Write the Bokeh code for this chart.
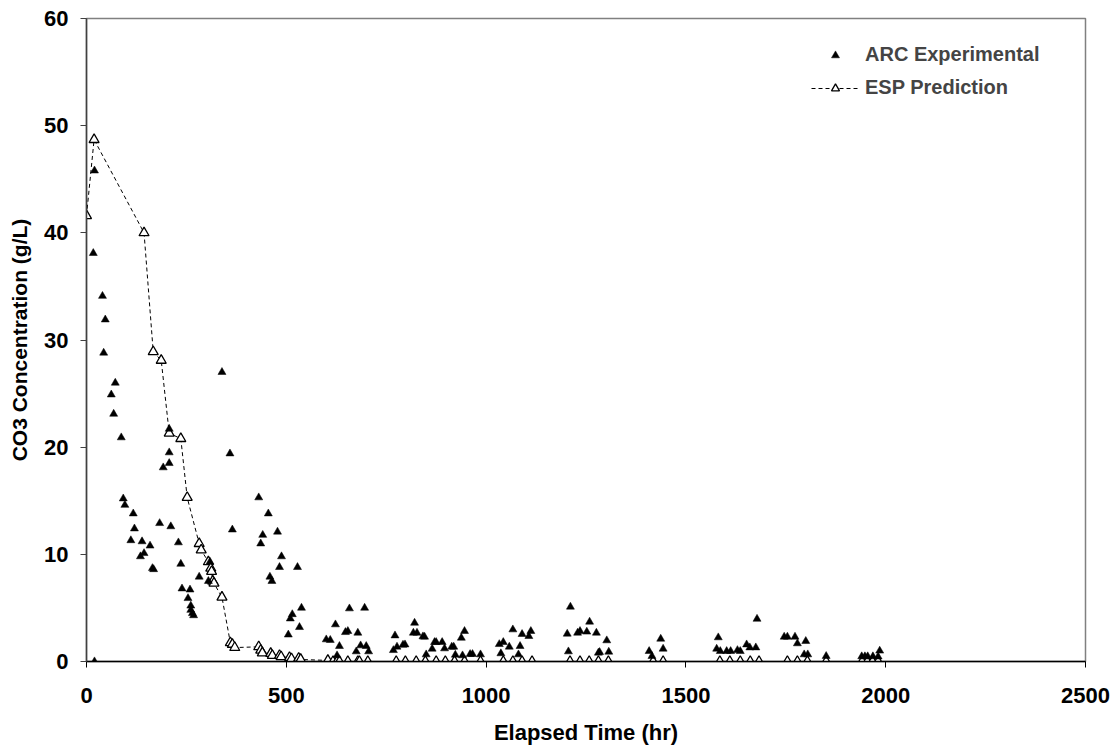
from bokeh.plotting import figure
from bokeh.models import Range1d, FixedTicker, Legend, LegendItem
from bokeh.embed import file_html
from bokeh.resources import INLINE

# ARC Experimental data (hr, g/L)
arc_x = [20, 17, 20, 40, 47, 43, 62, 72, 68, 87, 92, 96, 117, 120, 111, 139, 159, 144, 135, 165,
         168, 183, 192, 207, 207, 207, 211, 230, 236, 239, 259, 254, 261, 261, 265, 268, 282, 305,
         309, 339, 359, 365, 431, 436, 441, 455, 459, 464, 478, 483, 488, 505, 510, 515, 528, 533,
         538, 600, 610, 623, 627, 633, 648, 654, 658, 675, 679, 686, 696, 700, 706, 768, 772, 777,
         792, 797, 818, 821, 827, 842, 846, 850, 865, 871, 875, 890, 896, 914, 919, 923, 938, 941,
         946, 960, 966, 986, 1033, 1037, 1043, 1058, 1067, 1081, 1085, 1090, 1107, 1112, 1203,
         1206, 1211, 1229, 1235, 1252, 1259, 1276, 1281, 1284, 1302, 1307, 1408, 1415, 1437, 1443,
         1577, 1581, 1586, 1602, 1612, 1629, 1636, 1652, 1660, 1675, 1678, 1746, 1754, 1773, 1779,
         1796, 1800, 1805, 1851, 1940, 1948, 1955, 1968, 1981, 1985]
arc_y = [0.0, 38.1, 45.8, 34.1, 31.9, 28.8, 24.9, 26.0, 23.1, 20.9, 15.2, 14.6, 13.8, 12.4, 11.3,
         11.2, 10.8, 10.1, 9.8, 8.7, 8.6, 12.9, 18.1, 21.7, 19.5, 18.5, 12.6, 11.1, 9.1, 6.8, 6.7,
         5.9, 5.2, 4.8, 4.5, 4.3, 7.9, 7.5, 9.3, 27.0, 19.4, 12.3, 15.3, 11.0, 11.8, 13.8, 7.9, 7.5,
         12.1, 8.8, 9.8, 2.5, 4.0, 4.4, 8.8, 3.2, 5.0, 2.05, 2.0, 3.45, 0.56, 1.43, 2.73, 2.83, 4.94,
         0.93, 2.67, 1.49, 5.0, 1.43, 0.93, 1.05, 2.42, 1.37, 1.55, 1.58, 2.67, 3.6, 2.67, 2.33,
         2.3, 0.65, 1.18, 1.8, 1.8, 1.8, 1.21, 1.37, 1.37, 0.62, 2.2, 0.56, 2.83, 0.68, 0.68, 0.65,
         1.61, 0.75, 1.8, 1.37, 2.98, 0.65, 1.43, 2.55, 2.36, 2.83, 2.58, 0.93, 5.1, 2.67, 2.83,
         2.77, 3.7, 2.67, 0.81, 0.87, 1.96, 0.9, 0.96, 0.5, 2.11, 1.18, 1.18, 2.24, 0.96, 0.96,
         0.96, 1.05, 0.96, 1.58, 1.3, 1.3, 3.97, 2.3, 2.3, 2.3, 1.68, 0.65, 1.9, 0.65, 0.5, 0.47,
         0.47, 0.47, 0.47, 0.45, 1.0]

# ESP Prediction data (hr, g/L)
esp_x = [0, 19, 144, 167, 187, 207, 236, 252, 282, 287, 305, 311, 313, 316, 319, 339, 360, 365,
         371, 431, 436, 440, 461, 465, 483, 487, 508, 513, 531, 536, 604, 617, 627, 633, 654, 679,
         683, 704, 775, 798, 825, 848, 875, 898, 921, 946, 986, 1043, 1067, 1090, 1115, 1210, 1235,
         1258, 1281, 1306, 1418, 1443, 1585, 1610, 1636, 1661, 1683, 1754, 1779, 1804, 1851, 1941,
         1954, 1967, 1981]
esp_y = [41.6, 48.7, 40.0, 28.9, 28.1, 21.3, 20.8, 15.3, 11.0, 10.4, 9.3, 8.7, 8.4, 7.5, 7.3, 6.0,
         1.75, 1.6, 1.3, 1.37, 1.05, 0.8, 0.75, 0.56, 0.56, 0.44, 0.37, 0.25, 0.3, 0.19, 0.1, 0, 0,
         0, 0, 0, 0, 0, 0, 0, 0, 0, 0, 0, 0, 0, 0, 0, 0, 0, 0, 0, 0, 0, 0, 0, 0, 0, 0, 0, 0, 0, 0,
         0, 0, 0, 0, 0, 0, 0, 0]

x_ticks = [0, 500, 1000, 1500, 2000, 2500]
y_ticks = [0, 10, 20, 30, 40, 50, 60]

FONT = "Liberation Sans"

p = figure(width=1110, height=750, output_backend="svg", toolbar_location=None,
           x_range=Range1d(0, 2500), y_range=Range1d(0, 60),
           min_border_left=86, min_border_right=25, min_border_top=18, min_border_bottom=89)

p.xgrid.visible = False
p.ygrid.visible = False
p.outline_line_color = "#808080"
p.outline_line_width = 1.5
p.background_fill_color = "white"
p.border_fill_color = "white"

line = p.line(esp_x, esp_y, line_color="black", line_width=1, line_dash="4 3")
esp = p.scatter(esp_x, esp_y, marker="triangle", size=10, fill_color="white",
                line_color="black", line_width=1.3)
arc = p.scatter(arc_x, arc_y, marker="triangle", size=8, fill_color="black",
                line_color="black", line_width=0.5)

for ax, ticks in ((p.xaxis[0], x_ticks), (p.yaxis[0], y_ticks)):
    ax.ticker = FixedTicker(ticks=ticks)
    ax.minor_tick_line_color = None
    ax.major_tick_in = 0
    ax.major_tick_out = 6
    ax.major_label_text_font = FONT
    ax.major_label_text_font_style = "bold"
    ax.major_label_text_font_size = "22px"
    ax.major_label_text_color = "black"
    ax.axis_label_text_font = FONT
    ax.axis_label_text_font_style = "bold"
    ax.axis_label_text_color = "black"

p.xaxis.axis_label = "Elapsed Time (hr)"
p.yaxis.axis_label = "CO3 Concentration (g/L)"
p.xaxis.axis_label_text_font_size = "22px"
p.yaxis.axis_label_text_font_size = "21px"
p.xaxis.axis_line_color = "black"
p.xaxis.axis_line_width = 1.5
p.xaxis.major_tick_line_color = "black"
p.yaxis.axis_line_color = "#404040"
p.yaxis.axis_line_width = 1.5
p.yaxis.major_tick_line_color = "#404040"
p.xaxis.major_label_standoff = 20
p.xaxis.axis_label_standoff = 14
p.yaxis.major_label_standoff = 12
p.yaxis.axis_label_standoff = 10

legend = Legend(items=[LegendItem(label="ARC Experimental", renderers=[arc]),
                       LegendItem(label="ESP Prediction", renderers=[line, esp])],
                location=(725, 562), padding=0, spacing=10, glyph_width=48, glyph_height=20,
                label_standoff=6, label_text_font=FONT, label_text_font_style="bold",
                label_text_font_size="20px", border_line_color=None,
                background_fill_alpha=0)
p.add_layout(legend)

open("out.html", "w").write(file_html(p, INLINE))
